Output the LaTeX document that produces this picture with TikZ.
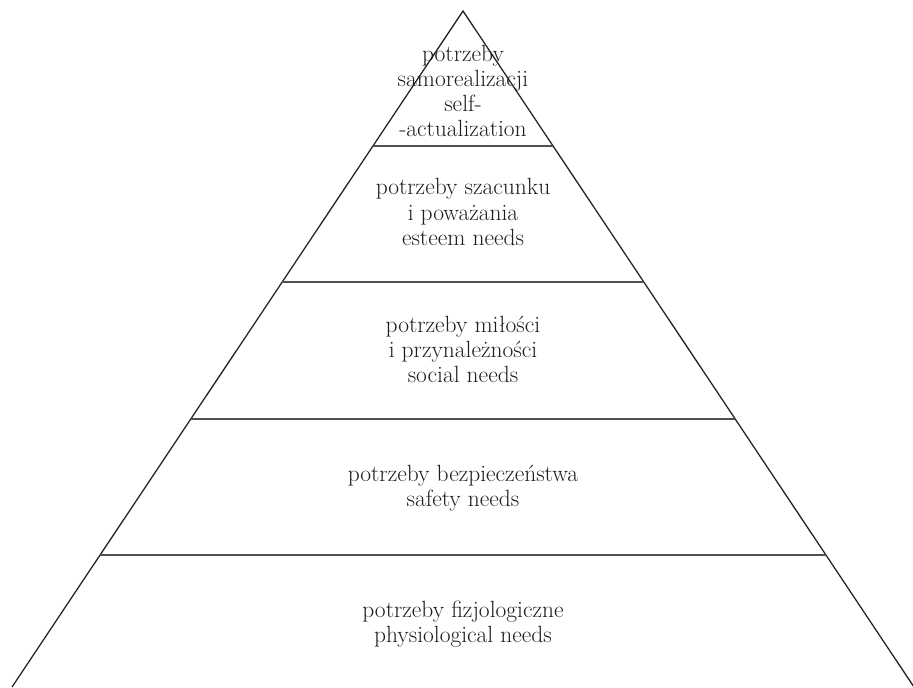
\documentclass[tikz,border=0pt]{standalone}
\usepackage{fontspec}
\usetikzlibrary{calc}
\definecolor{inkc}{HTML}{222222}
\definecolor{textc}{HTML}{1E1E1E}
\definecolor{bandc}{HTML}{505050}
\tikzset{
  side/.style={draw=inkc, line width=0.95pt},
  band/.style={draw=bandc, line width=0.95pt},
  label/.style={align=center, text=textc, inner sep=0pt,
    font=\fontsize{17.6}{18.8}\selectfont},
}
\begin{document}
\begin{tikzpicture}[x=0.75pt, y=-0.75pt]
  \useasboundingbox (0,0) rectangle (913,687);
  \fill[white] (0,0) rectangle (913,687);
  \coordinate (apex) at (463,11);
  \coordinate (bl) at (12,687);
  \coordinate (br) at (914,687);
  \begin{scope}
    \clip (0,0) rectangle (913,687);
    \draw[side] (bl) -- (apex) -- (br);
  \end{scope}
  % band boundaries
  \foreach \t/\n in {0.1997/a, 0.4009/b, 0.6036/c, 0.8047/d}{
    \coordinate (l\n) at ($(apex)!\t!(bl)$);
    \coordinate (r\n) at ($(apex)!\t!(br)$);
    \draw[band] (l\n) -- (r\n);
  }
  \node[label] (t1) at (463,91) {potrzeby\\samorealizacji\\self-\\-actualization};
  \node[label] (t2) at (463,212) {potrzeby szacunku\\i poważania\\esteem needs};
  \node[label] (t3) at (463,349) {potrzeby miłości\\i przynależności\\social needs};
  \node[label] (t4) at (463,488) {potrzeby bezpieczeństwa\\safety needs};
  \node[label] (t5) at (463,624) {potrzeby fizjologiczne\\physiological needs};
\end{tikzpicture}
\end{document}
